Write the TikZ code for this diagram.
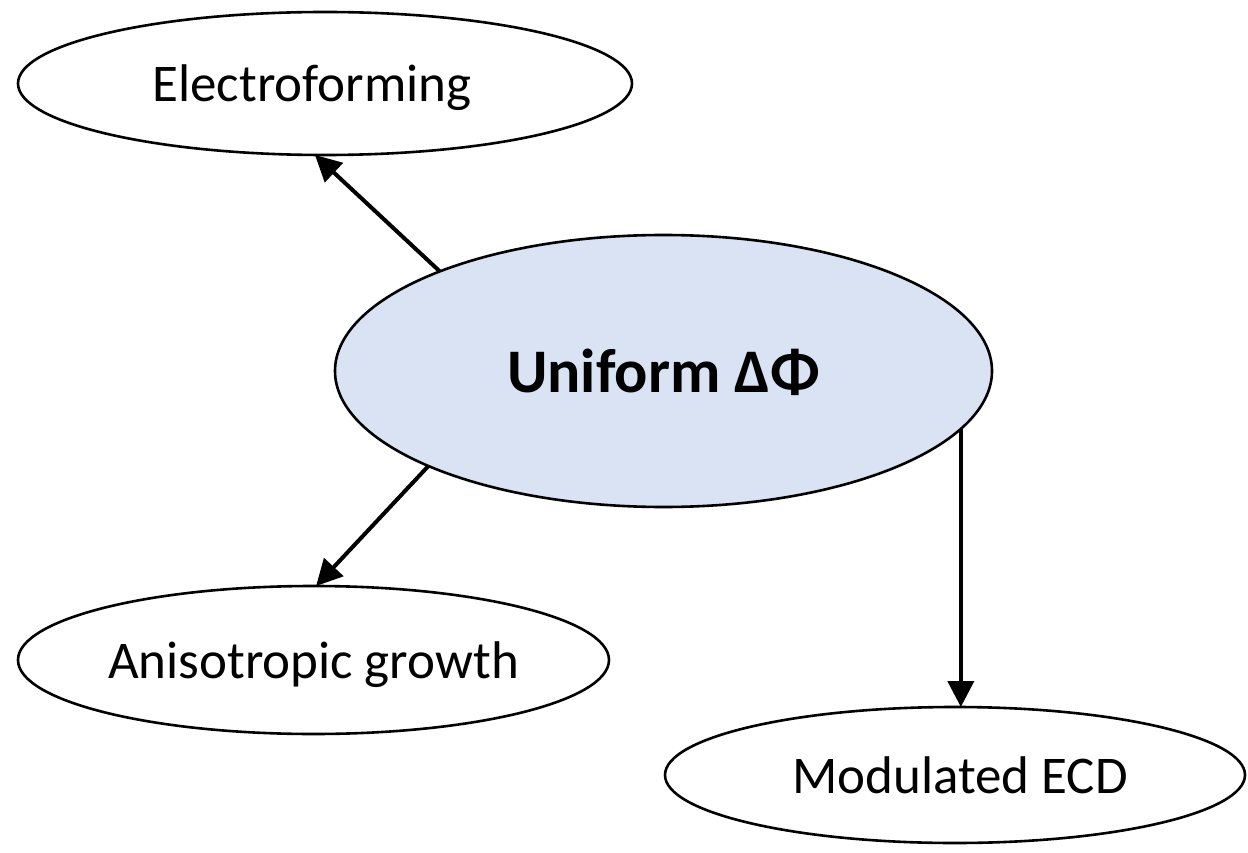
\documentclass[tikz,border=0pt]{standalone}
\usepackage{fontspec}
\setmainfont{Carlito}
\usetikzlibrary{shapes.geometric,arrows.meta}
\definecolor{ublue}{HTML}{DAE3F3}
\begin{document}
\begin{tikzpicture}[x=1pt,y=-1pt,
  oval/.style={ellipse,draw=black,line width=2.6pt,inner sep=0pt,outer sep=0pt,fill=white,text depth=0pt},
  conn/.style={line width=4pt,-{Triangle[length=26pt,width=26pt]}},
  lbl/.style={font=\fontsize{53}{60}\selectfont}]
\useasboundingbox (0,0) rectangle (1248,853);
\node[oval,minimum width=614pt,minimum height=143pt,lbl] (e) at (325,83.5) {Electroforming\hspace*{26pt}};
\node[oval,fill=ublue,minimum width=657pt,minimum height=272pt,font=\fontsize{62}{70}\selectfont\bfseries] (u) at (663.5,371) {Uniform ΔΦ};
\node[oval,minimum width=591pt,minimum height=148pt,lbl] (a) at (313.5,660) {Anisotropic growth};
\node[oval,minimum width=580pt,minimum height=136pt,lbl] (m) at (955,775) {\hspace*{10pt}Modulated ECD};
\draw[conn] (u.156.8) -- (e.262.4);
\draw[conn] (u.202.5) -- (a.88);
\draw[conn] (u.-11.5) -- (u.-11.5 |- m.north);
\end{tikzpicture}
\end{document}
